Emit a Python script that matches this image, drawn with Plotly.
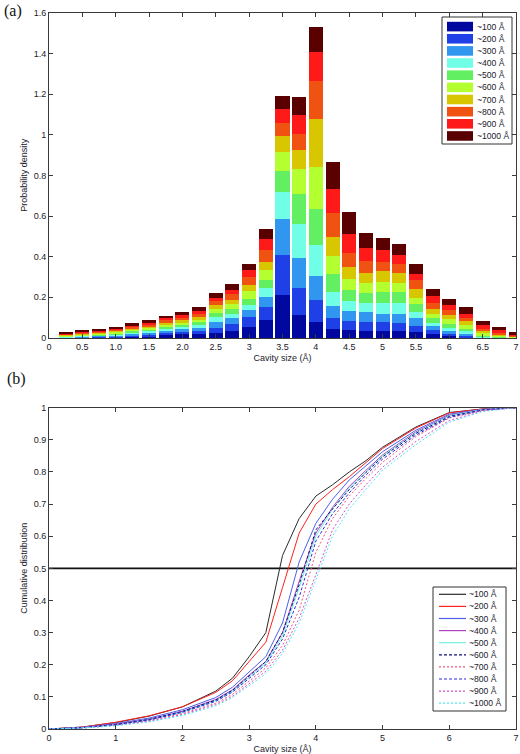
import plotly.graph_objects as go

W, H = 520, 754

# ---------------- data: panel (a) stacked probability density ----------------
bin_centers = [0.25, 0.5, 0.75, 1.0, 1.25, 1.5, 1.75, 2.0, 2.25, 2.5, 2.75, 3.0, 3.25, 3.5,
               3.75, 4.0, 4.25, 4.5, 4.75, 5.0, 5.25, 5.5, 5.75, 6.0, 6.25, 6.5, 6.75, 7.0]

series_names = ["~100 Å", "~200 Å", "~300 Å", "~400 Å", "~500 Å",
                "~600 Å", "~700 Å", "~800 Å", "~900 Å", "~1000 Å"]

d100 = [0.002, 0.003, 0.004, 0.005, 0.008, 0.010, 0.013, 0.018, 0.018, 0.025, 0.034, 0.054, 0.087, 0.212,
        0.113, 0.079, 0.043, 0.038, 0.036, 0.036, 0.033, 0.028, 0.022, 0.008, 0.003, 0.001, 0.001, 0.0005]
d200 = [0.002, 0.003, 0.004, 0.005, 0.007, 0.009, 0.011, 0.012, 0.016, 0.026, 0.037, 0.049, 0.063, 0.195,
        0.133, 0.107, 0.053, 0.044, 0.043, 0.041, 0.041, 0.031, 0.016, 0.014, 0.009, 0.002, 0.001, 0.0005]
d300 = [0.002, 0.003, 0.004, 0.005, 0.007, 0.009, 0.011, 0.013, 0.015, 0.028, 0.025, 0.033, 0.052, 0.176,
        0.148, 0.118, 0.060, 0.050, 0.049, 0.043, 0.046, 0.037, 0.020, 0.012, 0.010, 0.003, 0.002, 0.001]
d400 = [0.002, 0.003, 0.004, 0.005, 0.007, 0.008, 0.010, 0.011, 0.014, 0.023, 0.021, 0.025, 0.046, 0.133,
        0.166, 0.153, 0.071, 0.050, 0.046, 0.052, 0.054, 0.032, 0.016, 0.017, 0.011, 0.004, 0.002, 0.001]
d500 = [0.003, 0.004, 0.004, 0.005, 0.007, 0.008, 0.010, 0.010, 0.014, 0.021, 0.028, 0.033, 0.036, 0.105,
        0.148, 0.177, 0.087, 0.053, 0.048, 0.055, 0.051, 0.041, 0.023, 0.016, 0.013, 0.005, 0.003, 0.002]
d600 = [0.003, 0.004, 0.005, 0.006, 0.007, 0.008, 0.011, 0.012, 0.012, 0.022, 0.021, 0.038, 0.049, 0.092,
        0.123, 0.207, 0.090, 0.054, 0.047, 0.049, 0.046, 0.028, 0.023, 0.024, 0.017, 0.009, 0.004, 0.002]
d700 = [0.003, 0.004, 0.005, 0.006, 0.007, 0.008, 0.010, 0.011, 0.013, 0.019, 0.023, 0.031, 0.043, 0.081,
        0.094, 0.235, 0.092, 0.061, 0.051, 0.053, 0.049, 0.046, 0.025, 0.021, 0.019, 0.011, 0.007, 0.004]
d800 = [0.003, 0.004, 0.005, 0.006, 0.008, 0.009, 0.011, 0.013, 0.015, 0.017, 0.025, 0.037, 0.056, 0.065,
        0.078, 0.189, 0.117, 0.069, 0.058, 0.045, 0.046, 0.041, 0.029, 0.028, 0.017, 0.011, 0.007, 0.004]
d900 = [0.004, 0.004, 0.004, 0.005, 0.007, 0.009, 0.012, 0.015, 0.016, 0.016, 0.021, 0.033, 0.053, 0.066,
        0.094, 0.142, 0.118, 0.095, 0.065, 0.058, 0.041, 0.033, 0.031, 0.024, 0.021, 0.017, 0.011, 0.005]
d1000 = [0.004, 0.004, 0.005, 0.006, 0.007, 0.009, 0.011, 0.013, 0.017, 0.022, 0.030, 0.032, 0.049, 0.066,
         0.090, 0.122, 0.133, 0.104, 0.074, 0.059, 0.053, 0.046, 0.038, 0.027, 0.030, 0.023, 0.015, 0.008]

density_series = [d100, d200, d300, d400, d500, d600, d700, d800, d900, d1000]

top_xticks = [0, 0.5, 1, 1.5, 2, 2.5, 3, 3.5, 4, 4.5, 5, 5.5, 6, 6.5, 7]
top_xticktext = ["0", "0.5", "1.0", "1.5", "2.0", "2.5", "3", "3.5", "4", "4.5", "5", "5.5", "6", "6.5", "7"]

# ---------------- data: panel (b) cumulative distributions ----------------
cdf_x = [0, 0.5, 1, 1.5, 2, 2.5, 2.75, 3, 3.25, 3.5, 3.75, 4, 4.25, 4.5, 4.75, 5, 5.5, 6, 6.5, 7]

c100 = [0, 0.006, 0.020, 0.040, 0.069, 0.118, 0.158, 0.225, 0.30, 0.54, 0.655, 0.725, 0.76, 0.80, 0.835, 0.877, 0.94, 0.985, 0.996, 1.0]
c200 = [0, 0.006, 0.021, 0.041, 0.069, 0.114, 0.150, 0.210, 0.27, 0.44, 0.61, 0.70, 0.745, 0.785, 0.83, 0.873, 0.937, 0.984, 0.996, 1.0]
c300 = [0, 0.005, 0.017, 0.034, 0.060, 0.098, 0.130, 0.178, 0.225, 0.33, 0.52, 0.64, 0.715, 0.775, 0.82, 0.863, 0.930, 0.980, 0.995, 1.0]
c400 = [0, 0.005, 0.015, 0.030, 0.055, 0.092, 0.122, 0.168, 0.210, 0.30, 0.46, 0.61, 0.69, 0.755, 0.805, 0.853, 0.925, 0.977, 0.994, 1.0]
c500 = [0, 0.004, 0.013, 0.028, 0.052, 0.088, 0.118, 0.162, 0.205, 0.29, 0.44, 0.60, 0.685, 0.75, 0.80, 0.850, 0.922, 0.975, 0.994, 1.0]
c600 = [0, 0.004, 0.014, 0.030, 0.055, 0.090, 0.120, 0.165, 0.210, 0.30, 0.45, 0.62, 0.685, 0.745, 0.798, 0.847, 0.920, 0.973, 0.993, 1.0]
c700 = [0, 0.003, 0.012, 0.026, 0.048, 0.080, 0.108, 0.150, 0.190, 0.26, 0.37, 0.55, 0.655, 0.725, 0.78, 0.830, 0.910, 0.968, 0.992, 1.0]
c800 = [0, 0.004, 0.013, 0.028, 0.052, 0.086, 0.115, 0.158, 0.200, 0.28, 0.41, 0.585, 0.67, 0.735, 0.79, 0.840, 0.915, 0.970, 0.993, 1.0]
c900 = [0, 0.003, 0.011, 0.024, 0.045, 0.076, 0.102, 0.142, 0.180, 0.245, 0.345, 0.48, 0.62, 0.70, 0.76, 0.815, 0.895, 0.960, 0.990, 1.0]
c1000 = [0, 0.003, 0.010, 0.022, 0.042, 0.072, 0.098, 0.135, 0.172, 0.235, 0.33, 0.465, 0.60, 0.685, 0.745, 0.806, 0.885, 0.955, 0.988, 1.0]

cdf_series = [c100, c200, c300, c400, c500, c600, c700, c800, c900, c1000]
half_level = [0.5, 0.5]
half_x = [0, 7]

# ---------------- styles ----------------
bar_colors = ["#0008A0", "#1E40E6", "#3096F0", "#70FFE6", "#62F062",
              "#B4FF30", "#D8C600", "#F05212", "#FF1A1A", "#5A0000"]
cdf_colors = ["#2a2a2a", "#FF2020", "#4C60EA", "#B040C0", "#70F2E0",
              "#10107E", "#F05878", "#2C2CE0", "#D050D0", "#50E8F0"]
cdf_dash = ["solid", "solid", "solid", "solid", "solid",
            "3px,2px", "2px,2px", "3px,2px", "2px,2px", "2px,2px"]

FONT = "Liberation Sans, Arial, sans-serif"
AXC = "#3a3a3a"
TXC = "#1a1a2a"

fig = go.Figure()

for name, vals, col in zip(series_names, density_series, bar_colors):
    fig.add_trace(go.Bar(x=bin_centers, y=vals, width=0.21, name=name,
                         marker=dict(color=col, line=dict(width=0)),
                         xaxis="x", yaxis="y", showlegend=False))

fig.add_trace(go.Scatter(x=half_x, y=half_level, mode="lines",
                         line=dict(color="#111111", width=1.6),
                         xaxis="x2", yaxis="y2", showlegend=False))

for name, vals, col, dash in zip(series_names, cdf_series, cdf_colors, cdf_dash):
    fig.add_trace(go.Scatter(x=cdf_x, y=vals, mode="lines", name=name,
                             line=dict(color=col, width=1, dash=dash),
                             xaxis="x2", yaxis="y2", showlegend=False))

xdom = [49 / W, 516 / W]
top_dom = [1 - 338 / H, 1 - 12.7 / H]
bot_dom = [1 - 729 / H, 1 - 407.7 / H]

axis_common = dict(showline=True, linecolor=AXC, linewidth=1, mirror="ticks",
                   ticks="inside", ticklen=4, tickcolor=AXC, showgrid=False,
                   zeroline=False, automargin=False,
                   tickfont=dict(family=FONT, size=9, color=TXC))

fig.update_layout(
    width=W, height=H,
    margin=dict(l=0, r=0, t=0, b=0),
    paper_bgcolor="white", plot_bgcolor="white",
    barmode="stack",
    font=dict(family=FONT, size=9, color=TXC),
    xaxis=dict(domain=xdom, range=[0, 7], anchor="y",
               tickvals=top_xticks, ticktext=top_xticktext,
               title=dict(text="Cavity size (Å)", standoff=3, font=dict(size=9)),
               **axis_common),
    yaxis=dict(domain=top_dom, range=[0, 1.6], anchor="x", dtick=0.2,
               title=dict(text="Probability density", standoff=4, font=dict(size=9)),
               **axis_common),
    xaxis2=dict(domain=xdom, range=[0, 7], anchor="y2", dtick=1,
                title=dict(text="Cavity size (Å)", standoff=3, font=dict(size=9)),
                **axis_common),
    yaxis2=dict(domain=bot_dom, range=[0, 1], anchor="x2", dtick=0.1,
                title=dict(text="Cumulative distribution", standoff=4, font=dict(size=9)),
                **axis_common),
)


def px(x):
    return x / W


def py(y):
    return 1 - y / H


shapes = []
annotations = []

# panel labels
annotations.append(dict(text="(a)", x=px(2), y=py(11), xref="paper", yref="paper",
                        xanchor="left", yanchor="middle", showarrow=False,
                        font=dict(family="Liberation Serif, Times New Roman, serif", size=16, color="#111")))
annotations.append(dict(text="(b)", x=px(5), y=py(379), xref="paper", yref="paper",
                        xanchor="left", yanchor="middle", showarrow=False,
                        font=dict(family="Liberation Serif, Times New Roman, serif", size=16, color="#111")))

LEG_FS = 8.6

# legend (a): boxed, colour swatches
shapes.append(dict(type="rect", xref="paper", yref="paper", x0=px(442), x1=px(512),
                   y0=py(144), y1=py(17), line=dict(color="#333", width=1), fillcolor="white"))
for i, (name, col) in enumerate(zip(series_names, bar_colors)):
    yc = 26.6 + i * 12.15
    shapes.append(dict(type="rect", xref="paper", yref="paper", x0=px(447), x1=px(473),
                       y0=py(yc + 4.8), y1=py(yc - 4.8), line=dict(width=0), fillcolor=col))
    annotations.append(dict(text=name, x=px(475), y=py(yc), xref="paper", yref="paper",
                            xanchor="left", yanchor="middle", showarrow=False,
                            font=dict(family=FONT, size=LEG_FS, color=TXC)))

# legend (b): boxed, line samples
shapes.append(dict(type="rect", xref="paper", yref="paper", x0=px(433), x1=px(506),
                   y0=py(711), y1=py(587), line=dict(color="#333", width=1), fillcolor="white"))
for i, (name, col, dash) in enumerate(zip(series_names, cdf_colors, cdf_dash)):
    yc = 594.3 + i * 12.1
    shapes.append(dict(type="line", xref="paper", yref="paper", x0=px(439), x1=px(466),
                       y0=py(yc), y1=py(yc), line=dict(color=col, width=1.2, dash=dash)))
    annotations.append(dict(text=name, x=px(467), y=py(yc), xref="paper", yref="paper",
                            xanchor="left", yanchor="middle", showarrow=False,
                            font=dict(family=FONT, size=LEG_FS, color=TXC)))

fig.update_layout(shapes=shapes, annotations=annotations)

fig.write_html("out.html",
               config={"displayModeBar": False},
               post_script="document.body.style.margin='0px';document.body.style.overflow='hidden';")
